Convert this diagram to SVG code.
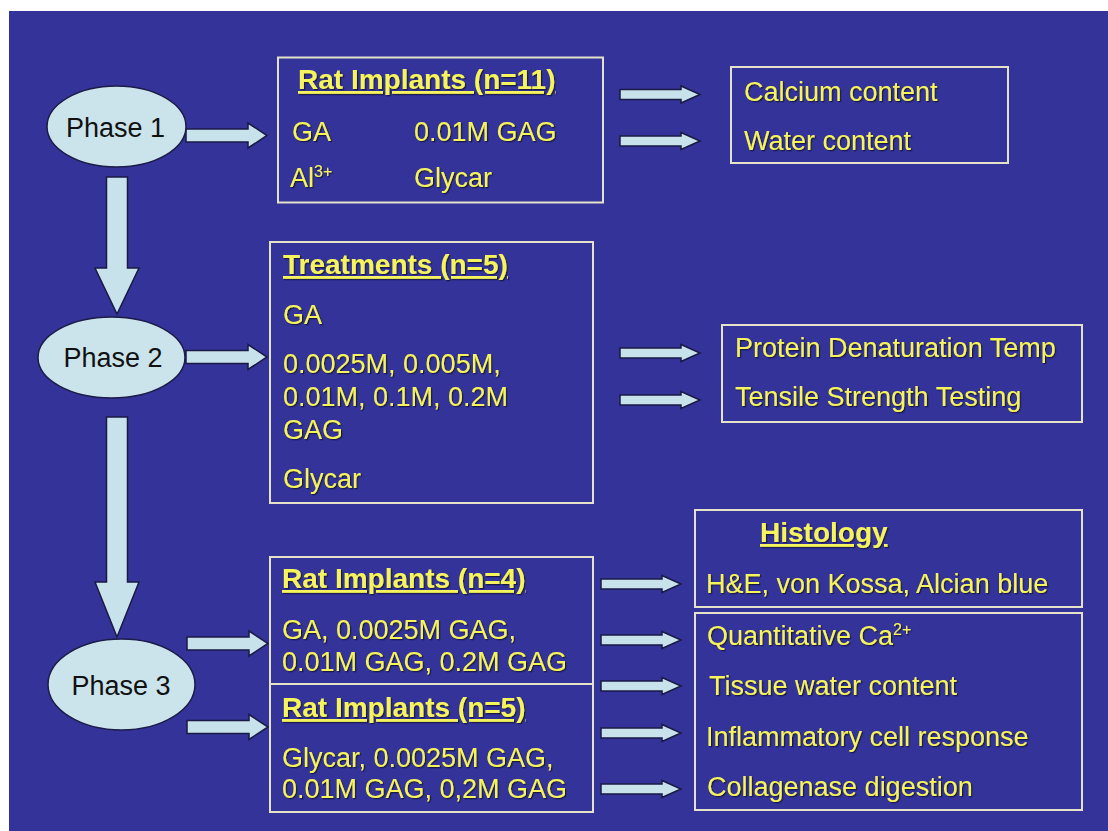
<svg xmlns="http://www.w3.org/2000/svg" xmlns:xlink="http://www.w3.org/1999/xlink" width="1108" height="831" viewBox="0 0 1108 831">
<style>
.bg{fill:#333399}
.box{fill:none;stroke:#e4e2c8;stroke-width:2}
.ell{fill:#cbe4ec;stroke:#1c1c48;stroke-width:1.5}
.arr{fill:#c8e2ec;stroke:#1a1a44;stroke-width:1.5;stroke-linejoin:miter}
.t{font-family:"Liberation Sans",Arial,sans-serif;font-size:27px;fill:#f6f45c;filter:url(#sh)}
.h{font-family:"Liberation Sans",Arial,sans-serif;font-size:28px;font-weight:bold;fill:#f6f45c;text-decoration:underline;filter:url(#sh)}
.ph{font-family:"Liberation Sans",Arial,sans-serif;font-size:27px;fill:#111111;text-anchor:middle}
.sup{font-size:16px}
</style>
<defs>
<filter id="sh" x="-5%" y="-20%" width="110%" height="140%">
<feDropShadow dx="1.2" dy="1.2" stdDeviation="0.6" flood-color="#14143a" flood-opacity="0.9"/>
</filter>
<path id="sm" d="M0,-5 H61 V-8.5 L80,0 L61,8.5 V5 H0 Z"/>
<path id="big" d="M0,-6.5 H62 V-12.5 L81,0 L62,12.5 V6.5 H0 Z"/>
</defs>
<rect class="bg" x="9" y="11" width="1099" height="820"/>

<g id="connectors">
<path class="arr" d="M106.5,177 H127.5 V268 H139 L117,314 L95,268 H106.5 Z"/>
<path class="arr" d="M106.5,417 H127.5 V582 H139 L117,637 L95,582 H106.5 Z"/>
<use class="arr" xlink:href="#big" href="#big" x="186" y="135.5"/>
<use class="arr" xlink:href="#big" href="#big" x="186" y="357"/>
<use class="arr" xlink:href="#big" href="#big" x="187" y="643.5"/>
<use class="arr" xlink:href="#big" href="#big" x="187" y="727"/>
<use class="arr" xlink:href="#sm" href="#sm" x="620" y="94.5"/>
<use class="arr" xlink:href="#sm" href="#sm" x="620" y="141"/>
<use class="arr" xlink:href="#sm" href="#sm" x="620" y="353"/>
<use class="arr" xlink:href="#sm" href="#sm" x="620" y="400"/>
<use class="arr" xlink:href="#sm" href="#sm" x="601" y="584"/>
<use class="arr" xlink:href="#sm" href="#sm" x="601" y="640"/>
<use class="arr" xlink:href="#sm" href="#sm" x="601" y="686"/>
<use class="arr" xlink:href="#sm" href="#sm" x="601" y="733"/>
<use class="arr" xlink:href="#sm" href="#sm" x="601" y="789"/>
</g>

<g id="phase1">
<ellipse class="ell" cx="116.5" cy="126.5" rx="69.5" ry="40.5"/>
<text class="ph" x="115.5" y="137">Phase 1</text>
</g>
<g id="phase2">
<ellipse class="ell" cx="111.5" cy="357.5" rx="73.5" ry="40.5"/>
<text class="ph" x="113" y="367">Phase 2</text>
</g>
<g id="phase3">
<ellipse class="ell" cx="121.5" cy="684.5" rx="73.5" ry="45.5"/>
<text class="ph" x="121" y="695">Phase 3</text>
</g>

<g id="rat-implants-11">
<rect class="box" x="278" y="57.5" width="325" height="145"/>
<text class="h" x="298" y="89">Rat Implants (n=11)</text>
<text class="t" x="292" y="141">GA</text>
<text class="t" x="414" y="141">0.01M GAG</text>
<text class="t" x="290" y="187">Al<tspan class="sup" dy="-10">3+</tspan></text>
<text class="t" x="414" y="187">Glycar</text>
</g>

<g id="calcium-water">
<rect class="box" x="731" y="67" width="277" height="96"/>
<text class="t" x="744" y="101">Calcium content</text>
<text class="t" x="744" y="150">Water content</text>
</g>

<g id="treatments">
<rect class="box" x="270" y="242" width="323" height="261"/>
<text class="h" x="283" y="274">Treatments (n=5)</text>
<text class="t" x="283" y="324">GA</text>
<text class="t" x="283" y="373">0.0025M, 0.005M,</text>
<text class="t" x="283" y="406">0.01M, 0.1M, 0.2M</text>
<text class="t" x="283" y="439">GAG</text>
<text class="t" x="283" y="488">Glycar</text>
</g>

<g id="protein-tensile">
<rect class="box" x="722" y="325" width="360" height="97"/>
<text class="t" x="735" y="357">Protein Denaturation Temp</text>
<text class="t" x="735" y="406">Tensile Strength Testing</text>
</g>

<g id="rat-implants-4">
<rect class="box" x="270" y="557" width="323" height="127"/>
<text class="h" x="282" y="588">Rat Implants (n=4)</text>
<text class="t" x="282" y="639">GA, 0.0025M GAG,</text>
<text class="t" x="282" y="671">0.01M GAG, 0.2M GAG</text>
</g>

<g id="rat-implants-5">
<rect class="box" x="270" y="684" width="323" height="128"/>
<text class="h" x="282" y="717">Rat Implants (n=5)</text>
<text class="t" x="282" y="767">Glycar, 0.0025M GAG,</text>
<text class="t" x="282" y="798">0.01M GAG, 0,2M GAG</text>
</g>

<g id="histology">
<rect class="box" x="695" y="510" width="387" height="97"/>
<text class="h" x="760" y="542">Histology</text>
<text class="t" x="706" y="593">H&amp;E, von Kossa, Alcian blue</text>
</g>

<g id="measurements">
<rect class="box" x="695" y="613" width="387" height="197"/>
<text class="t" x="707" y="645">Quantitative Ca<tspan class="sup" dy="-10">2+</tspan></text>
<text class="t" x="709" y="695">Tissue water content</text>
<text class="t" x="706" y="746">Inflammatory cell response</text>
<text class="t" x="707" y="796">Collagenase digestion</text>
</g>
</svg>
